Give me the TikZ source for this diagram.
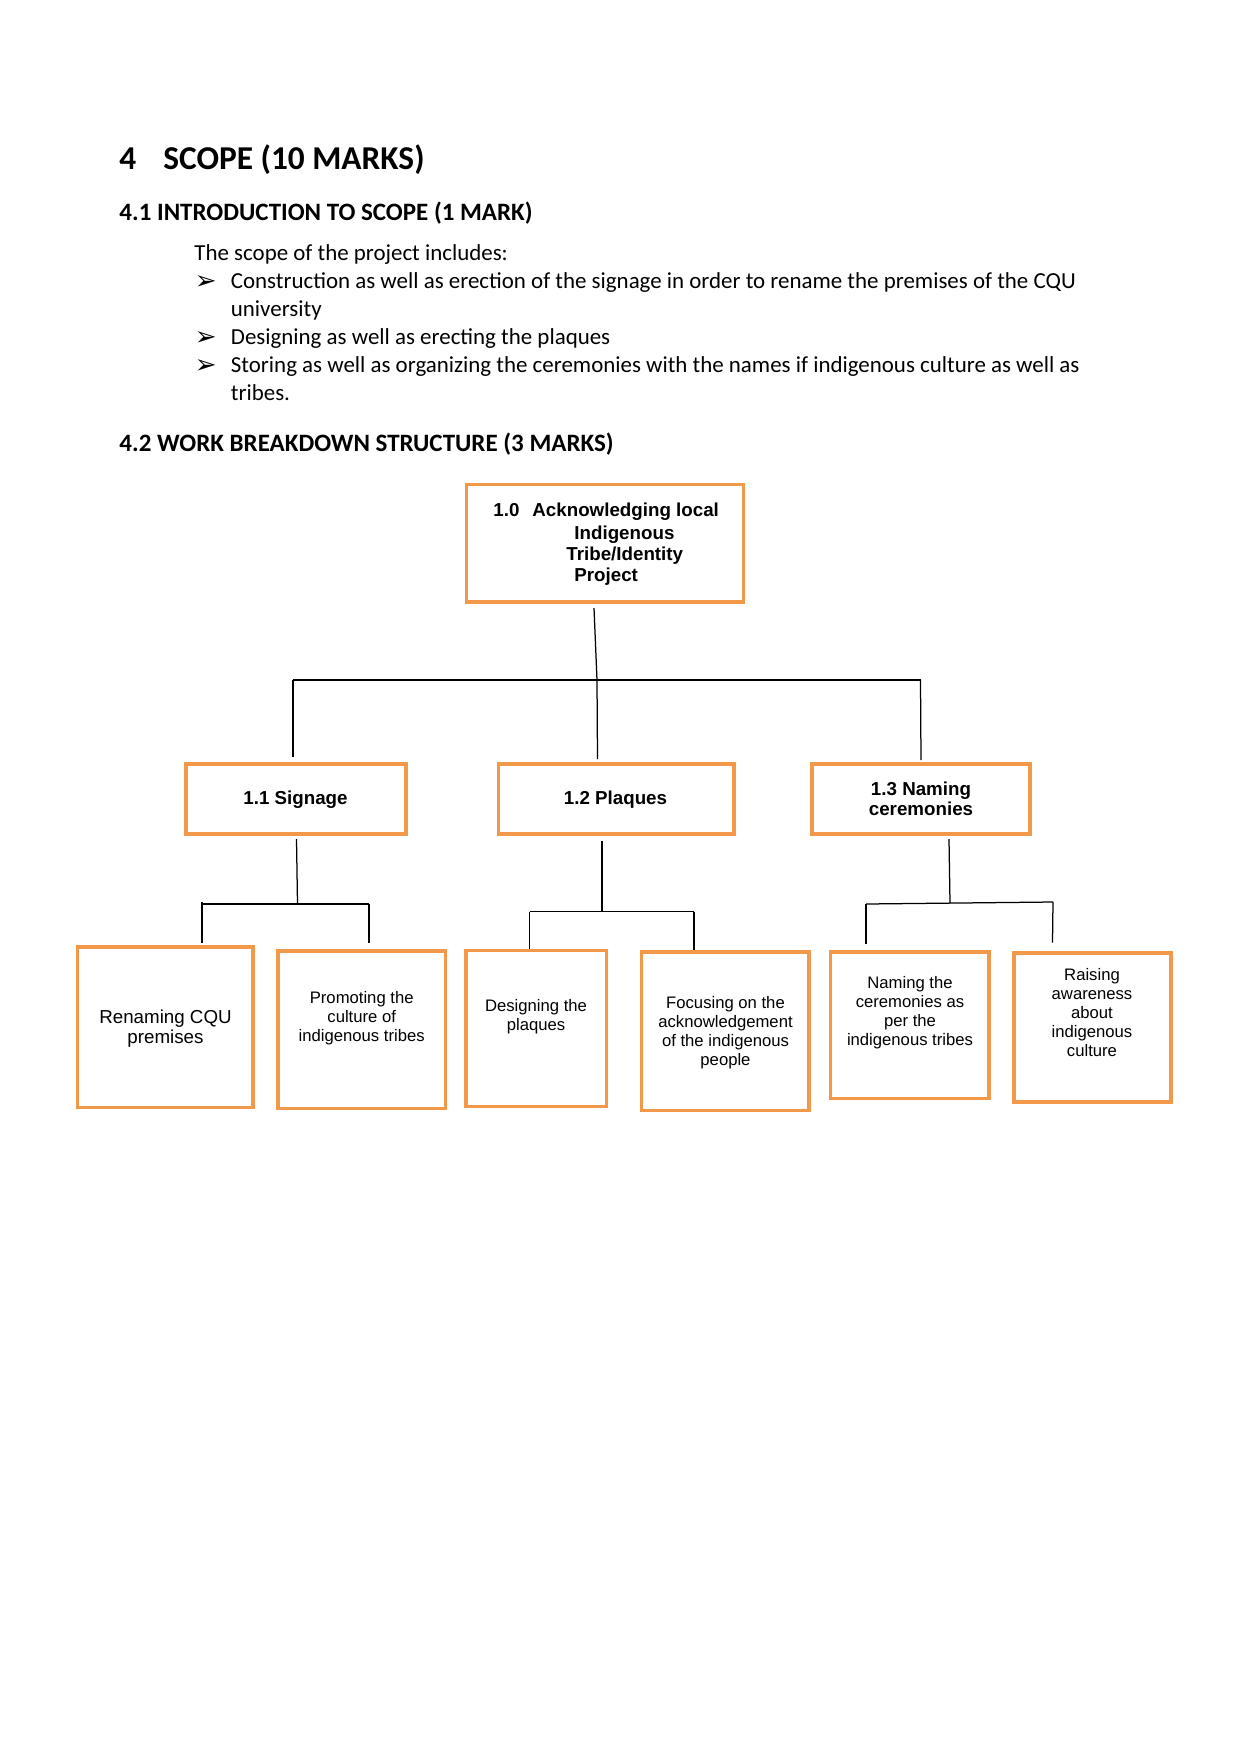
\documentclass[tikz,border=0pt]{standalone}
\usepackage{fontspec}
\setmainfont{Carlito}
\newfontfamily\arialf{Liberation Sans}
\newfontfamily\dejavu{DejaVu Sans}
\usetikzlibrary{fit}
\definecolor{boxorange}{RGB}{241,153,72}
\tikzset{
  x=0.48pt, y=-0.48pt,
  obox/.style={draw=boxorange, line width=1.7pt, inner sep=0pt, rectangle},
  conn/.style={draw=black, line width=0.6pt},
  hone/.style={anchor=base west, inner sep=0pt, font=\fontsize{16}{19}\selectfont\bfseries},
  htwo/.style={anchor=base west, inner sep=0pt, font=\fontsize{12}{14}\selectfont\bfseries},
  body/.style={anchor=base west, inner sep=0pt, font=\fontsize{11}{13.4}\selectfont},
  bul/.style={anchor=base west, inner sep=0pt, font=\dejavu\fontsize{12.5}{14}\selectfont},
  tbold/.style={inner sep=0pt, font=\arialf\bfseries\fontsize{9}{9.6}\selectfont, align=center},
  tnine/.style={anchor=base, inner sep=0pt, font=\arialf\fontsize{9}{9.45}\selectfont, align=center},
  teight/.style={anchor=base, inner sep=0pt, font=\arialf\fontsize{8}{9.1}\selectfont, align=center},
}
\begin{document}
\begin{tikzpicture}
\useasboundingbox (0,0) rectangle (1241,1754);
\fill[white] (0,0) rectangle (1241,1754);

% headings and body
\node[hone] (h4num) at (119,169) {4};
\node[hone] (h4) at (163,169) {SCOPE (10 MARKS)};
\node[htwo] (h41) at (119,220) {4.1 INTRODUCTION TO SCOPE (1 MARK)};
\node[body] (intro) at (194,260) {The scope of the project includes:};
\node[bul] (b1) at (194.5,289) {➢};
\node[body] (l1) at (230.5,288) {Construction as well as erection of the signage in order to rename the premises of the CQU};
\node[body] (l1b) at (230.5,316) {university};
\node[bul] (b2) at (194.5,345) {➢};
\node[body] (l2) at (230.5,344) {Designing as well as erecting the plaques};
\node[bul] (b3) at (194.5,373) {➢};
\node[body] (l3) at (230.5,372) {Storing as well as organizing the ceremonies with the names if indigenous culture as well as};
\node[body] (l3b) at (230.5,400) {tribes.};
\node[htwo] (h42) at (119,451) {4.2 WORK BREAKDOWN STRUCTURE (3 MARKS)};

% top box
\node[obox, fit={(466.5,484.5)(743.5,602)}] (b10) {};
\node[tbold, anchor=base west] (t10n) at (493,516.7) {1.0};
\node[tbold, anchor=base west] (t10a) at (532,516.7) {Acknowledging local};
\node[tbold, anchor=base west] (t10b) at (574,539) {Indigenous};
\node[tbold, anchor=base west] (t10c) at (566,560.7) {Tribe/Identity};
\node[tbold, anchor=base west] (t10d) at (574,581.7) {Project};

% level 2 boxes
\node[obox, fit={(186,764)(406,834)}] (b11) {};
\node[obox, fit={(498.5,764)(734,834)}] (b12) {};
\node[obox, fit={(812,764)(1030,834)}] (b13) {};
\node[tbold, anchor=base] (t11) at (295.5,804) {1.1 Signage};
\node[tbold, anchor=base] (t12) at (615.5,804) {1.2 Plaques};
\node[tbold, anchor=base] (t13) at (921,815) {1.3 Naming\\ceremonies};

% level 3 boxes
\node[obox, fit={(77.5,947)(253,1107.5)}] (c1) {};
\node[obox, fit={(278,951)(445.5,1108.5)}] (c2) {};
\node[obox, fit={(466,950.5)(606.5,1106.5)}] (c3) {};
\node[obox, fit={(641.5,952)(809,1110.5)}] (c4) {};
\node[obox, fit={(830.5,952)(989,1098.5)}] (c5) {};
\node[obox, fit={(1014,953)(1171,1102)}] (c6) {};
\node[tnine] (tc1) at (165.5,1043) {Renaming CQU\\premises};
\node[teight] (tc2) at (361.7,1041) {Promoting the\\culture of\\indigenous tribes};
\node[teight] (tc3) at (536,1030.5) {Designing the\\plaques};
\node[teight] (tc4) at (725.5,1065.3) {Focusing on the\\acknowledgement\\of the indigenous\\people};
\node[teight] (tc5) at (910,1045.3) {Naming the\\ceremonies as\\per the\\indigenous tribes};
\node[teight] (tc6) at (1092,1056) {Raising\\awareness\\about\\indigenous\\culture};

% connector coordinates
\coordinate (p0a) at (594,608);
\coordinate (p0b) at (597,680);
\coordinate (p0l) at (293,680);
\coordinate (p0r) at (920.5,680);
\coordinate (q11) at (293,757);
\coordinate (q12) at (597.5,759);
\coordinate (q13) at (921,760);

\coordinate (s1a) at (296.5,839);
\coordinate (s1b) at (297.5,904);
\coordinate (s1l) at (202,904);
\coordinate (s1r) at (369,904);
\coordinate (e1) at (202,943);
\coordinate (e2) at (369,943);

\coordinate (s2a) at (602,841);
\coordinate (s2b) at (602,911.5);
\coordinate (s2l) at (529.5,911.5);
\coordinate (s2r) at (694,911.5);
\coordinate (e3) at (529.5,949);
\coordinate (e4) at (694,950);

\coordinate (s3a) at (949,839);
\coordinate (s3b) at (950,903);
\coordinate (s3l) at (866,904);
\coordinate (s3r) at (1053,902);
\coordinate (e5) at (866,944);
\coordinate (e6) at (1052.5,942.5);

\draw[conn] (p0a) -- (p0b) -- (q12);
\draw[conn] (p0l) -- (p0r);
\draw[conn] (p0l) -- (q11);
\draw[conn] (p0r) -- (q13);

\draw[conn] (s1a) -- (s1b);
\draw[conn] (s1l) -- (s1r);
\draw[conn] ([yshift=1pt]s1l) -- (e1);
\draw[conn] (s1r) -- (e2);

\draw[conn] (s2a) -- (s2b);
\draw[conn] (s2l) -- (s2r);
\draw[conn] (s2l) -- (e3);
\draw[conn] (s2r) -- (e4);

\draw[conn] (s3a) -- (s3b);
\draw[conn] (s3l) -- (s3r);
\draw[conn] (s3l) -- (e5);
\draw[conn] (s3r) -- (e6);
\end{tikzpicture}
\end{document}
